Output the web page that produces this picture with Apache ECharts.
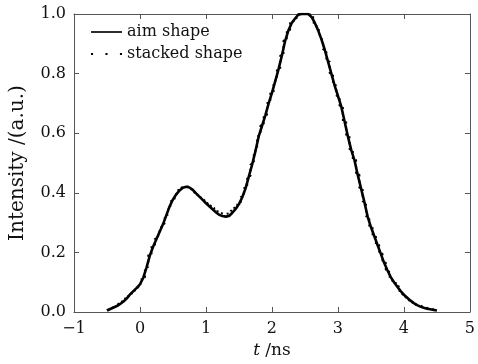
<!DOCTYPE html>
<html><head><meta charset="utf-8">
<script src="https://cdn.jsdelivr.net/npm/echarts@6/dist/echarts.min.js"></script>
<style>html,body{margin:0;padding:0;background:#fff}#c{width:478px;height:364px}</style>
</head><body><div id="c"></div>
<script>
const times = [-0.50,-0.45,-0.40,-0.35,-0.30,-0.25,-0.20,-0.15,-0.10,-0.05,0.00,0.05,0.10,0.15,0.20,0.25,0.30,0.35,0.40,0.45,0.50,0.55,0.60,0.65,0.70,0.75,0.80,0.85,0.90,0.95,1.00,1.05,1.10,1.15,1.20,1.25,1.30,1.35,1.40,1.45,1.50,1.55,1.60,1.65,1.70,1.75,1.80,1.85,1.90,1.95,2.00,2.05,2.10,2.15,2.20,2.25,2.30,2.35,2.40,2.45,2.50,2.55,2.60,2.65,2.70,2.75,2.80,2.85,2.90,2.95,3.00,3.05,3.10,3.15,3.20,3.25,3.30,3.35,3.40,3.45,3.50,3.55,3.60,3.65,3.70,3.75,3.80,3.85,3.90,3.95,4.00,4.05,4.10,4.15,4.20,4.25,4.30,4.35,4.40,4.45,4.50];
const aimShape = [0.005,0.010,0.015,0.020,0.027,0.035,0.046,0.059,0.070,0.081,0.093,0.115,0.150,0.190,0.220,0.245,0.270,0.295,0.325,0.355,0.378,0.395,0.408,0.417,0.420,0.418,0.410,0.398,0.387,0.376,0.365,0.355,0.345,0.335,0.326,0.322,0.320,0.322,0.333,0.346,0.362,0.385,0.415,0.455,0.495,0.540,0.590,0.625,0.660,0.700,0.735,0.775,0.815,0.860,0.910,0.945,0.970,0.985,0.998,1.000,1.000,1.000,0.990,0.970,0.945,0.915,0.880,0.840,0.800,0.760,0.725,0.690,0.640,0.590,0.545,0.510,0.460,0.415,0.370,0.320,0.285,0.255,0.225,0.195,0.165,0.140,0.117,0.100,0.085,0.070,0.058,0.048,0.038,0.030,0.023,0.018,0.014,0.011,0.009,0.007,0.005];
const stackedShape = [0.006,0.011,0.016,0.021,0.028,0.036,0.047,0.060,0.071,0.082,0.094,0.116,0.151,0.191,0.221,0.246,0.271,0.296,0.326,0.356,0.379,0.396,0.409,0.418,0.421,0.419,0.411,0.399,0.388,0.377,0.366,0.357,0.350,0.342,0.333,0.328,0.330,0.332,0.340,0.350,0.364,0.386,0.416,0.456,0.496,0.541,0.591,0.626,0.661,0.701,0.736,0.776,0.816,0.861,0.911,0.946,0.971,0.986,0.999,1.000,1.000,1.000,0.991,0.971,0.946,0.916,0.881,0.841,0.801,0.761,0.726,0.691,0.641,0.591,0.546,0.511,0.461,0.416,0.371,0.321,0.286,0.256,0.226,0.196,0.166,0.141,0.118,0.101,0.086,0.071,0.059,0.049,0.039,0.031,0.024,0.019,0.015,0.012,0.010,0.008,0.006];
const xTicks = [-1,0,1,2,3,4,5];
const yTicks = [0.0,0.2,0.4,0.6,0.8,1.0];

const font = 'DejaVu Serif';
const axisCommon = {
  axisLine:{show:true,onZero:false,lineStyle:{color:'#555',width:1}},
  axisTick:{show:true,inside:true,length:5,lineStyle:{color:'#555'}},
  splitLine:{show:false}
};
const solidIcon = 'path://M0,4.2L30,4.2L30,5.8L0,5.8Z';
const dotIcon = 'path://M0,4L2,4L2,6L0,6ZM14,4L16,4L16,6L14,6ZM28,4L30,4L30,6L28,6Z';
const chart = echarts.init(document.getElementById('c'));
chart.setOption({
  animation:false,
  backgroundColor:'#fff',
  grid:{left:69,right:6,top:14,bottom:46},
  legend:{
    left:86,top:19,orient:'vertical',itemGap:6,itemWidth:31,itemHeight:10,
    textStyle:{fontFamily:font,fontSize:16,color:'#111'},
    data:[{name:'aim shape',icon:solidIcon,itemStyle:{color:'#000'}},{name:'stacked shape',icon:dotIcon,itemStyle:{color:'#000'}}]
  },
  xAxis:[
    Object.assign({type:'value',min:xTicks[0],max:xTicks[xTicks.length-1],interval:1,position:'bottom',
      name:'{i|t} /ns',nameLocation:'middle',nameGap:30,
      nameTextStyle:{fontFamily:font,fontSize:17,color:'#111',rich:{i:{fontFamily:font,fontStyle:'italic',fontSize:17,color:'#111'}}},
      axisLabel:{fontFamily:font,fontSize:16,color:'#111',margin:9,formatter:v=>String(v).replace('-','\u2212')}},axisCommon),
    Object.assign({type:'value',min:xTicks[0],max:xTicks[xTicks.length-1],interval:1,position:'top',axisLabel:{show:false}},axisCommon)
  ],
  yAxis:[
    Object.assign({type:'value',min:yTicks[0],max:yTicks[yTicks.length-1],interval:0.2,position:'left',
      name:'Intensity /(a.u.)',nameLocation:'middle',nameGap:46,nameRotate:90,
      nameTextStyle:{fontFamily:font,fontSize:20,color:'#111'},
      axisLabel:{fontFamily:font,fontSize:16,color:'#111',margin:8,formatter:v=>v.toFixed(1)}},axisCommon),
    Object.assign({type:'value',min:yTicks[0],max:yTicks[yTicks.length-1],interval:0.2,position:'right',axisLabel:{show:false}},axisCommon)
  ],
  series:[
    {name:'aim shape',type:'line',symbol:'none',
     data:times.map((t,i)=>[t,aimShape[i]]),
     lineStyle:{color:'#000',width:2.6,type:'solid'},itemStyle:{color:'#000'},z:2},
    {name:'stacked shape',type:'line',step:'middle',symbol:'none',
     data:times.map((t,i)=>[t,stackedShape[i]]),
     lineStyle:{color:'#000',width:2,type:[2,4]},itemStyle:{color:'#000'},z:3}
  ]
});
</script></body></html>
